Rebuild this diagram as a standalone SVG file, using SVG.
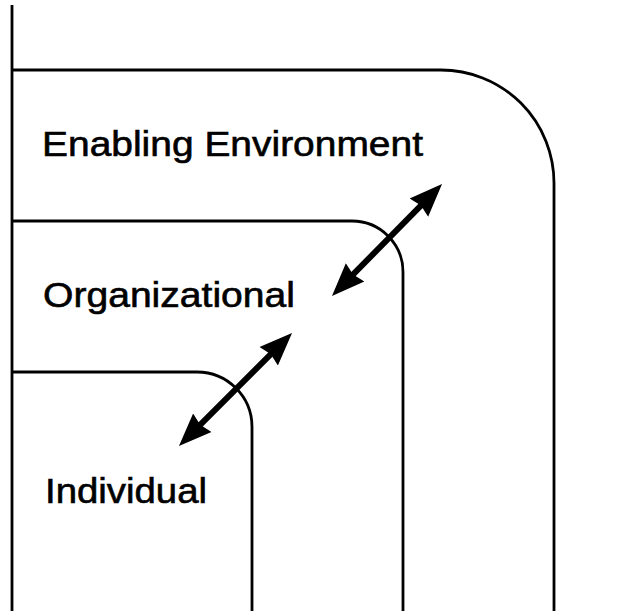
<svg xmlns="http://www.w3.org/2000/svg" width="634" height="611" viewBox="0 0 634 611">
<style>
.frame{fill:none;stroke:#000;stroke-width:2.8}
.lbl{font-family:"Liberation Sans",Arial,sans-serif;font-size:35px;fill:#000;stroke:#000;stroke-width:0.6}
.arr{stroke:#000;stroke-width:6;fill:none}
</style>
<defs>
<marker id="head" markerUnits="userSpaceOnUse" markerWidth="36" markerHeight="30" refX="13" refY="15" orient="auto-start-reverse">
<path d="M0,2 L33,15 L0,28 L3,15 Z" fill="#000"/>
</marker>
</defs>
<rect width="634" height="611" fill="#fff"/>
<line class="frame" x1="12" y1="5" x2="12" y2="611"/>
<g id="enabling-environment">
<path class="frame" d="M12,70 H441 A113,113 0 0 1 554,183 V611"/>
<text class="lbl" x="42" y="156" textLength="381" lengthAdjust="spacingAndGlyphs">Enabling Environment</text>
</g>
<g id="organizational">
<path class="frame" d="M12,221 H352 A51,51 0 0 1 403,272 V611"/>
<text class="lbl" x="43" y="307" textLength="252" lengthAdjust="spacingAndGlyphs">Organizational</text>
</g>
<g id="individual">
<path class="frame" d="M12,372 H197 A55,55 0 0 1 252,427 V611"/>
<text class="lbl" x="45" y="503" textLength="162" lengthAdjust="spacingAndGlyphs">Individual</text>
</g>
<g id="connectors">
<line class="arr" x1="346" y1="281.7" x2="428" y2="198.3" marker-start="url(#head)" marker-end="url(#head)"/>
<line class="arr" x1="193.1" y1="431.9" x2="277.9" y2="347.1" marker-start="url(#head)" marker-end="url(#head)"/>
</g>
</svg>
